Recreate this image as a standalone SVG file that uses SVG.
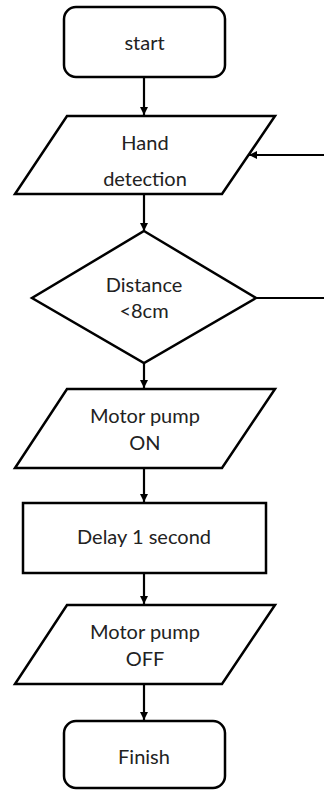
<svg xmlns="http://www.w3.org/2000/svg" width="324" height="790" viewBox="0 0 324 790">
<style>
.s{fill:#fff;stroke:#000;stroke-width:2.5;stroke-linejoin:miter}
.t{font-family:Lato,"Open Sans","Liberation Sans",sans-serif;font-size:20px;fill:#222;text-anchor:middle}
.c{fill:none;stroke:#000;stroke-width:2.2}
</style>
<defs>
<marker id="ah" viewBox="0 0 8 8" refX="8" refY="4" markerWidth="8" markerHeight="8" markerUnits="userSpaceOnUse" orient="auto">
<path d="M0,0 L8,4 L0,8 Z" fill="#000"/>
</marker>
</defs>
<rect width="324" height="790" fill="#fff"/>
<g id="connectors">
<line class="c" x1="144" y1="77" x2="144" y2="115" marker-end="url(#ah)"/>
<line class="c" x1="144" y1="194" x2="144" y2="231" marker-end="url(#ah)"/>
<line class="c" x1="144" y1="363" x2="144" y2="388" marker-end="url(#ah)"/>
<line class="c" x1="144" y1="468" x2="144" y2="502" marker-end="url(#ah)"/>
<line class="c" x1="144" y1="573" x2="144" y2="604" marker-end="url(#ah)"/>
<line class="c" x1="144" y1="684" x2="144" y2="720" marker-end="url(#ah)"/>
<line class="c" x1="256" y1="298" x2="324" y2="298"/>
<line class="c" x1="324" y1="155" x2="249" y2="155" marker-end="url(#ah)"/>
</g>
<g id="start">
<rect class="s" x="64" y="7" width="161" height="70" rx="12"/>
<text class="t" x="144.5" y="50">start</text>
</g>
<g id="hand">
<polygon class="s" points="67,116 275,116 222,194 15,194"/>
<text class="t" x="145" y="150">Hand</text>
<text class="t" x="145" y="186">detection</text>
</g>
<g id="distance">
<polygon class="s" points="144,231 256,298 144,363 32,298"/>
<text class="t" x="144" y="292">Distance</text>
<text class="t" x="144" y="318">&lt;8cm</text>
</g>
<g id="pumpon">
<polygon class="s" points="67,389 275,389 222,468 15,468"/>
<text class="t" x="145" y="423">Motor pump</text>
<text class="t" x="145" y="450">ON</text>
</g>
<g id="delay">
<rect class="s" x="23" y="503" width="243" height="70"/>
<text class="t" x="144" y="544">Delay 1 second</text>
</g>
<g id="pumpoff">
<polygon class="s" points="67,605 275,605 222,684 15,684"/>
<text class="t" x="145" y="639">Motor pump</text>
<text class="t" x="145" y="666">OFF</text>
</g>
<g id="finish">
<rect class="s" x="64" y="721" width="161" height="67" rx="12"/>
<text class="t" x="144" y="764">Finish</text>
</g>
</svg>
